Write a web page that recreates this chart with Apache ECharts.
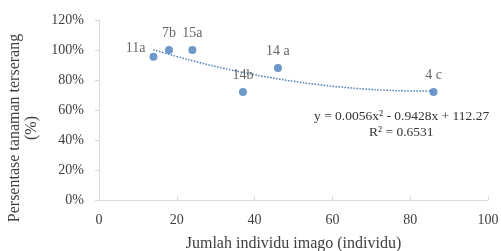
<!DOCTYPE html>
<html>
<head>
<meta charset="utf-8">
<script src="https://cdn.jsdelivr.net/npm/echarts@6/dist/echarts.min.js"></script>
<style>
  html, body { margin: 0; padding: 0; background: #fff; }
  #chart { width: 501px; height: 251px; }
</style>
</head>
<body>
<div id="chart"></div>
<script>
// data
const imago = [14, 18, 24, 37, 46, 86]
const attacked = [95.5, 100, 100, 72, 88, 72]
const pointLabels = ['11a', '7b', '15a', '14b', '14 a', '4 c']
// trendline printed on the chart: y = 0.0056x^2 - 0.9428x + 112.27
const trendCoef = [0.0056, -0.9428, 112.27]
const trendX = [14, 20, 26, 32, 38, 44, 50, 56, 62, 68, 74, 80, 86]

const textColor = '#404040'
const serif = 'Liberation Serif'

const points = imago.map(function (x, i) {
  const item = { value: [x, attacked[i]], name: pointLabels[i] }
  if (i === 0) {
    item.label = { position: 'left', offset: [2, -8] }
  }
  return item
})
const trend = trendX.map(function (x) {
  return [x, trendCoef[0] * x * x + trendCoef[1] * x + trendCoef[2]]
})

const chart = echarts.init(document.getElementById('chart'), null, { renderer: 'canvas' })
chart.setOption({
  animation: false,
  textStyle: { fontFamily: serif, color: textColor },
  grid: { left: 99, right: 13, top: 20, bottom: 51, outerBoundsMode: 'none' },
  xAxis: {
    type: 'value',
    min: 0,
    max: 100,
    interval: 20,
    name: 'Jumlah individu imago (individu)',
    nameLocation: 'middle',
    nameGap: 36,
    nameTextStyle: { fontFamily: serif, fontSize: 16, color: textColor },
    axisLine: { lineStyle: { color: '#d9d9d9' } },
    axisTick: { show: true, inside: true, length: 4, lineStyle: { color: '#d9d9d9' } },
    axisLabel: { fontFamily: serif, fontSize: 14, color: textColor, margin: 13 },
    splitLine: { show: false }
  },
  yAxis: {
    type: 'value',
    min: 0,
    max: 120,
    interval: 20,
    name: 'Persentase tanaman terserang\n(%)',
    nameLocation: 'middle',
    nameGap: 41,
    nameTextStyle: {
      fontFamily: serif,
      fontSize: 16,
      color: textColor,
      lineHeight: 17,
      padding: [0, 36, 0, 0]
    },
    axisLine: { show: true, lineStyle: { color: '#d9d9d9' } },
    axisTick: { show: true, length: 4, lineStyle: { color: '#d9d9d9' } },
    axisLabel: { fontFamily: serif, fontSize: 14, color: textColor, margin: 15, formatter: '{value}%' },
    splitLine: { show: false }
  },
  series: [
    {
      type: 'line',
      data: trend,
      smooth: true,
      symbol: 'none',
      lineStyle: { color: '#4a7ebb', width: 1.5, type: [1.5, 1.5] },
      silent: true,
      z: 1
    },
    {
      type: 'scatter',
      data: points,
      symbolSize: 8,
      itemStyle: { color: '#4a7ebb' },
      label: {
        show: true,
        position: 'top',
        distance: 6,
        formatter: '{b}',
        fontFamily: serif,
        fontSize: 14,
        color: textColor
      },
      z: 2
    }
  ],
  graphic: [
    {
      type: 'text',
      left: 314,
      top: 109,
      style: {
        text: 'y = 0.0056x² - 0.9428x + 112.27',
        fontFamily: serif,
        fontSize: 13.5,
        fill: '#333'
      }
    },
    {
      type: 'text',
      left: 369,
      top: 125,
      style: {
        text: 'R² = 0.6531',
        fontFamily: serif,
        fontSize: 13.5,
        fill: '#333'
      }
    }
  ]
})
</script>
</body>
</html>
